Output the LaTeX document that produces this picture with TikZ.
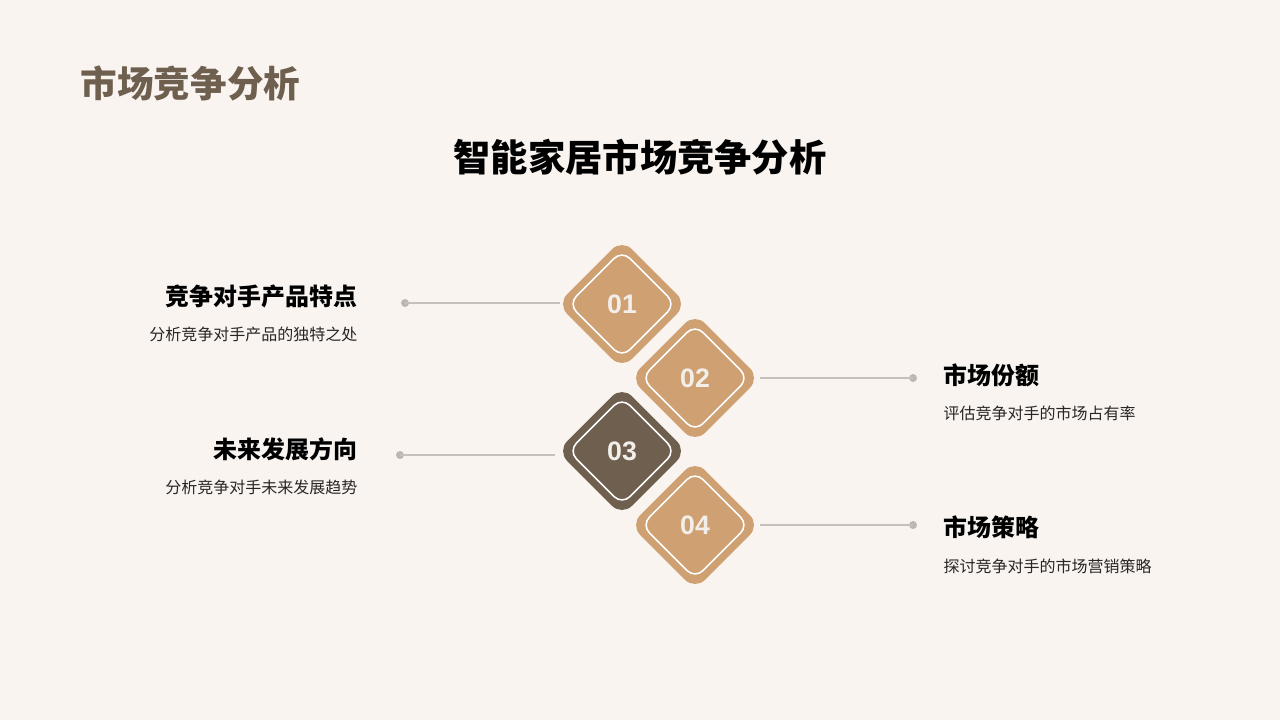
\documentclass[tikz,border=0pt]{standalone}
\usepackage{fontspec}
\usetikzlibrary{shapes.geometric,calc}
\newfontfamily\cjk{Noto Sans CJK SC}
\newfontfamily\numfont{Liberation Sans}
\definecolor{bgc}{HTML}{F9F4F0}
\definecolor{tanc}{HTML}{CFA072}
\definecolor{darkc}{HTML}{6E5F4F}
\definecolor{linec}{HTML}{C6C0BA}
\definecolor{dotc}{HTML}{BDB7B2}
\definecolor{numc}{HTML}{F2EEEA}
\tikzset{
  outerd/.style={diamond, aspect=1, minimum size=1.30cm, inner sep=0pt, rounded corners=0.14cm, fill=tanc, text=numc, font=\numfont\bfseries\fontsize{7.6pt}{8pt}\selectfont},
  innerd/.style={diamond, aspect=1, minimum size=1.075cm, inner sep=0pt, rounded corners=0.11cm, draw=white, line width=0.45pt},
  dotn/.style={circle, fill=dotc, inner sep=0pt, minimum size=0.08cm},
  conn/.style={draw=linec, line width=0.6pt},
  headl/.style={font=\cjk\bfseries\fontsize{6.8pt}{8pt}\selectfont, inner sep=0pt, text=black},
  subl/.style={font=\cjk\fontsize{4.55pt}{6pt}\selectfont, inner sep=0pt, text=black!85},
}
\begin{document}
\begin{tikzpicture}[x=0.01cm,y=-0.01cm]
\fill[bgc] (0,0) rectangle (1280,720);
\useasboundingbox (0,0) rectangle (1280,720);
\node[anchor=west, inner sep=0pt, text=darkc, font=\cjk\bfseries\fontsize{10.4pt}{12pt}\selectfont] (t1) at (80,83) {市场竞争分析};
\node[inner sep=0pt, text=black, font=\cjk\bfseries\fontsize{10.6pt}{12pt}\selectfont] (t2) at (640,157) {智能家居市场竞争分析};

\node[outerd] (d1) at (622,304) {01};
\node[innerd] (i1) at (622,304) {};
\node[outerd] (d2) at (695,378) {02};
\node[innerd] (i2) at (695,378) {};
\node[outerd, fill=darkc] (d3) at (622,451) {03};
\node[innerd] (i3) at (622,451) {};
\node[outerd] (d4) at (695,525) {04};
\node[innerd] (i4) at (695,525) {};

\node[dotn] (p1) at (405,303) {};
\node[dotn] (p2) at (913,378) {};
\node[dotn] (p3) at (400,455) {};
\node[dotn] (p4) at (913,525) {};
\draw[conn] (p1.center) -- ($(d1.center |- p1.center)+(-62,0)$);
\draw[conn] (p2.center) -- ($(d2.center |- p2.center)+(65,0)$);
\draw[conn] (p3.center) -- ($(d3.center |- p3.center)+(-67,0)$);
\draw[conn] (p4.center) -- ($(d4.center |- p4.center)+(65,0)$);

\node[headl, anchor=east] (h1) at (358,296) {竞争对手产品特点};
\node[subl, anchor=east] (s1) at (358,334) {分析竞争对手产品的独特之处};
\node[headl, anchor=east] (h3) at (358,449) {未来发展方向};
\node[subl, anchor=east] (s3) at (358,487) {分析竞争对手未来发展趋势};
\node[headl, anchor=west] (h2) at (943,375) {市场份额};
\node[subl, anchor=west] (s2) at (943,413) {评估竞争对手的市场占有率};
\node[headl, anchor=west] (h4) at (943,527) {市场策略};
\node[subl, anchor=west] (s4) at (943,566) {探讨竞争对手的市场营销策略};
\end{tikzpicture}
\end{document}
